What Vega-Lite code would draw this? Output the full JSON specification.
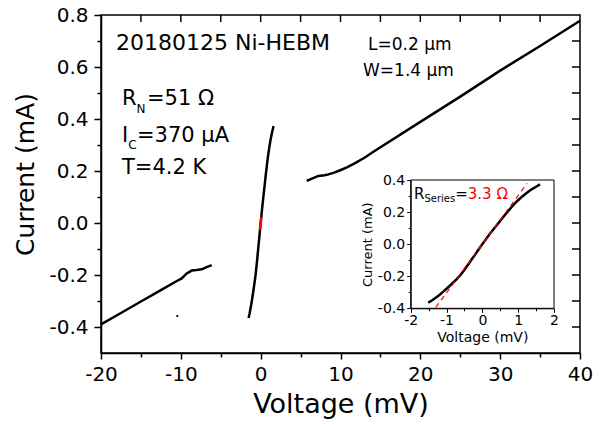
{
  "$schema": "https://vega.github.io/schema/vega-lite/v6.json",
  "width": 479,
  "height": 338,
  "autosize": {"type": "none"},
  "padding": {"left": 101, "top": 15, "right": 26, "bottom": 72},
  "background": "white",
  "config": {
    "font": "DejaVu Sans",
    "view": {"stroke": "#000", "strokeWidth": 1.5},
    "axis": {"grid": false, "domainColor": "#000", "domainWidth": 1.5, "tickColor": "#000", "tickWidth": 1.5, "labelColor": "#000", "titleColor": "#000", "labelFont": "DejaVu Sans", "titleFont": "DejaVu Sans", "titleFontWeight": "normal", "labelOverlap": false, "labelFlush": false, "minExtent": 0, "maxExtent": 200},
    "text": {"font": "DejaVu Sans", "color": "#000"}
  },
  "datasets": {
    "branches": [
      {"b": "low", "V": -20, "I": -0.39},
      {"b": "low", "V": -17.5, "I": -0.346},
      {"b": "low", "V": -15, "I": -0.302},
      {"b": "low", "V": -12.5, "I": -0.258},
      {"b": "low", "V": -10.5, "I": -0.223},
      {"b": "low", "V": -9.89, "I": -0.213},
      {"b": "low", "V": -9.26, "I": -0.194},
      {"b": "low", "V": -8.64, "I": -0.183},
      {"b": "low", "V": -8.01, "I": -0.181},
      {"b": "low", "V": -7.38, "I": -0.178},
      {"b": "low", "V": -6.76, "I": -0.17},
      {"b": "low", "V": -6.13, "I": -0.162},
      {"b": "high", "V": 5.77, "I": 0.162},
      {"b": "high", "V": 6.5, "I": 0.172},
      {"b": "high", "V": 7.23, "I": 0.181},
      {"b": "high", "V": 8.0, "I": 0.184},
      {"b": "high", "V": 8.49, "I": 0.187},
      {"b": "high", "V": 9.1, "I": 0.193},
      {"b": "high", "V": 9.74, "I": 0.2},
      {"b": "high", "V": 10.8, "I": 0.214},
      {"b": "high", "V": 11.83, "I": 0.23},
      {"b": "high", "V": 13.0, "I": 0.251},
      {"b": "high", "V": 14.12, "I": 0.274},
      {"b": "high", "V": 20, "I": 0.389},
      {"b": "high", "V": 25, "I": 0.486},
      {"b": "high", "V": 30, "I": 0.586},
      {"b": "high", "V": 35, "I": 0.681},
      {"b": "high", "V": 40, "I": 0.778}
    ],
    "center": [
      {"V": -1.51, "I": -0.365},
      {"V": -1.4, "I": -0.35},
      {"V": -1.3, "I": -0.334},
      {"V": -1.2, "I": -0.317},
      {"V": -1.09, "I": -0.296},
      {"V": -0.97, "I": -0.272},
      {"V": -0.85, "I": -0.247},
      {"V": -0.73, "I": -0.221},
      {"V": -0.62, "I": -0.195},
      {"V": -0.5, "I": -0.16},
      {"V": -0.4, "I": -0.128},
      {"V": -0.3, "I": -0.096},
      {"V": -0.2, "I": -0.064},
      {"V": -0.1, "I": -0.032},
      {"V": 0, "I": 0},
      {"V": 0.1, "I": 0.031},
      {"V": 0.2, "I": 0.061},
      {"V": 0.35, "I": 0.104},
      {"V": 0.49, "I": 0.143},
      {"V": 0.6, "I": 0.174},
      {"V": 0.7, "I": 0.201},
      {"V": 0.83, "I": 0.235},
      {"V": 0.96, "I": 0.266},
      {"V": 1.08, "I": 0.291},
      {"V": 1.2, "I": 0.313},
      {"V": 1.3, "I": 0.33},
      {"V": 1.4, "I": 0.345},
      {"V": 1.5, "I": 0.358},
      {"V": 1.61, "I": 0.373}
    ],
    "mainFit": [
      {"V": -0.09, "I": -0.027},
      {"V": 0.08, "I": 0.024}
    ],
    "insetFit": [
      {"V": -1.3, "I": -0.394},
      {"V": 1.25, "I": 0.379}
    ],
    "stray": [
      {"V": -10.44, "I": -0.358}
    ],
    "topTicks": [
      {"V": -15, "Itop": 0.8, "Iend": 0.773}, {"V": -10, "Itop": 0.8, "Iend": 0.773}, {"V": -5, "Itop": 0.8, "Iend": 0.773},
      {"V": 0, "Itop": 0.8, "Iend": 0.773}, {"V": 5, "Itop": 0.8, "Iend": 0.773}, {"V": 10, "Itop": 0.8, "Iend": 0.773},
      {"V": 15, "Itop": 0.8, "Iend": 0.773}, {"V": 20, "Itop": 0.8, "Iend": 0.773}, {"V": 25, "Itop": 0.8, "Iend": 0.773},
      {"V": 30, "Itop": 0.8, "Iend": 0.773}, {"V": 35, "Itop": 0.8, "Iend": 0.773}
    ],
    "rightTicks": [
      {"I": -0.4, "Vr": 40, "Vend": 39.0}, {"I": -0.3, "Vr": 40, "Vend": 39.0}, {"I": -0.2, "Vr": 40, "Vend": 39.0},
      {"I": -0.1, "Vr": 40, "Vend": 39.0}, {"I": 0, "Vr": 40, "Vend": 39.0}, {"I": 0.1, "Vr": 40, "Vend": 39.0},
      {"I": 0.2, "Vr": 40, "Vend": 39.0}, {"I": 0.3, "Vr": 40, "Vend": 39.0}, {"I": 0.4, "Vr": 40, "Vend": 39.0},
      {"I": 0.5, "Vr": 40, "Vend": 39.0}, {"I": 0.6, "Vr": 40, "Vend": 39.0}, {"I": 0.7, "Vr": 40, "Vend": 39.0}
    ],
    "mainTitle": [
      {"V": -18.12, "I": 0.692, "t": "20180125 Ni-HEBM"}
    ],
    "dims": [
      {"V": 13.45, "I": 0.685, "t": "L=0.2 μm"},
      {"V": 12.82, "I": 0.586, "t": "W=1.4 μm"}
    ],
    "params": [
      {"V": -17.37, "I": 0.477, "t": "R"},
      {"V": -14.24, "I": 0.477, "t": "=51 Ω"},
      {"V": -17.37, "I": 0.335, "t": "I"},
      {"V": -15.49, "I": 0.335, "t": "=370 μA"},
      {"V": -17.37, "I": 0.212, "t": "T=4.2 K"}
    ],
    "subs": [
      {"V": -15.54, "I": 0.437, "t": "N"},
      {"V": -16.59, "I": 0.3, "t": "C"}
    ],
    "box": [
      {"V": -2, "V2": 2, "I": -0.4, "I2": 0.4}
    ],
    "rsBlack": [
      {"V": -1.91, "I": 0.31, "t": "R"},
      {"V": -0.758, "I": 0.31, "t": "="}
    ],
    "rsSub": [
      {"V": -1.618, "I": 0.281, "t": "Series"}
    ],
    "rsRed": [
      {"V": -0.406, "I": 0.31, "t": "3.3 Ω"}
    ]
  },
  "layer": [
    {
      "layer": [
        {
          "data": {"name": "branches"},
          "mark": {"type": "line", "color": "#000", "strokeWidth": 2.5},
          "encoding": {
            "x": {"field": "V", "type": "quantitative", "scale": {"domain": [-20, 40], "nice": false, "zero": false},
              "axis": {"orient": "bottom", "title": "Voltage (mV)", "values": [-20, -15, -10, -5, 0, 5, 10, 15, 20, 25, 30, 35, 40],
                "labelExpr": "datum.value % 10 == 0 ? (datum.value < 0 ? '-' : '') + format(abs(datum.value), 'd') : ''",
                "tickSize": {"condition": {"test": "datum.value % 10 == 0", "value": 6}, "value": 4},
                "labelFontSize": 20, "titleFontSize": 27, "labelPadding": 5, "titlePadding": 7}},
            "y": {"field": "I", "type": "quantitative", "scale": {"domain": [-0.5, 0.8], "nice": false, "zero": false},
              "axis": {"orient": "left", "title": "Current (mA)", "values": [-0.4, -0.3, -0.2, -0.1, 0, 0.1, 0.2, 0.3, 0.4, 0.5, 0.6, 0.7, 0.8],
                "labelExpr": "abs(round(datum.value * 10)) % 2 == 0 ? (datum.value < 0 ? '-' : '') + format(abs(datum.value), '.1f') : ''",
                "tickSize": {"condition": {"test": "abs(round(datum.value * 10)) % 2 == 0", "value": 7}, "value": 4},
                "labelFontSize": 20, "titleFontSize": 25, "labelPadding": 6, "titlePadding": 10, "titleY": 159}},
            "detail": {"field": "b"}
          }
        },
        {
          "data": {"name": "center"},
          "mark": {"type": "line", "color": "#000", "strokeWidth": 2.5},
          "encoding": {
            "x": {"field": "V", "type": "quantitative", "axis": null},
            "y": {"field": "I", "type": "quantitative", "axis": null}
          }
        },
        {
          "data": {"name": "topTicks"},
          "mark": {"type": "rule", "color": "#000", "strokeWidth": 1.5},
          "encoding": {
            "x": {"field": "V", "type": "quantitative", "axis": null},
            "y": {"field": "Itop", "type": "quantitative", "axis": null},
            "y2": {"field": "Iend"}
          }
        },
        {
          "data": {"name": "rightTicks"},
          "mark": {"type": "rule", "color": "#000", "strokeWidth": 1.5},
          "encoding": {
            "x": {"field": "Vr", "type": "quantitative", "axis": null},
            "x2": {"field": "Vend"},
            "y": {"field": "I", "type": "quantitative", "axis": null}
          }
        },
        {
          "data": {"name": "mainFit"},
          "mark": {"type": "line", "color": "#ff0000", "strokeWidth": 2.5},
          "encoding": {
            "x": {"field": "V", "type": "quantitative", "axis": null},
            "y": {"field": "I", "type": "quantitative", "axis": null}
          }
        },
        {
          "data": {"name": "stray"},
          "mark": {"type": "circle", "color": "#000", "size": 5, "opacity": 1},
          "encoding": {
            "x": {"field": "V", "type": "quantitative", "axis": null},
            "y": {"field": "I", "type": "quantitative", "axis": null}
          }
        },
        {
          "data": {"name": "mainTitle"},
          "mark": {"type": "text", "fontSize": 22, "align": "left", "baseline": "middle"},
          "encoding": {
            "x": {"field": "V", "type": "quantitative", "axis": null},
            "y": {"field": "I", "type": "quantitative", "axis": null},
            "text": {"field": "t"}
          }
        },
        {
          "data": {"name": "dims"},
          "mark": {"type": "text", "fontSize": 17, "align": "left", "baseline": "middle"},
          "encoding": {
            "x": {"field": "V", "type": "quantitative", "axis": null},
            "y": {"field": "I", "type": "quantitative", "axis": null},
            "text": {"field": "t"}
          }
        },
        {
          "data": {"name": "params"},
          "mark": {"type": "text", "fontSize": 21, "align": "left", "baseline": "middle"},
          "encoding": {
            "x": {"field": "V", "type": "quantitative", "axis": null},
            "y": {"field": "I", "type": "quantitative", "axis": null},
            "text": {"field": "t"}
          }
        },
        {
          "data": {"name": "subs"},
          "mark": {"type": "text", "fontSize": 12, "align": "left", "baseline": "middle"},
          "encoding": {
            "x": {"field": "V", "type": "quantitative", "axis": null},
            "y": {"field": "I", "type": "quantitative", "axis": null},
            "text": {"field": "t"}
          }
        }
      ],
      "resolve": {"axis": {"x": "independent", "y": "independent"}}
    },
    {
      "layer": [
        {
          "data": {"name": "box"},
          "mark": {"type": "rect", "fill": "white", "stroke": "#000", "strokeWidth": 1},
          "encoding": {
            "x": {"field": "V", "type": "quantitative", "scale": {"domain": [-2, 2], "range": [309.7, 453], "nice": false, "zero": false},
              "axis": {"orient": "bottom", "offset": -44.7, "zindex": 1, "title": "Voltage (mV)", "values": [-2, -1.5, -1, -0.5, 0, 0.5, 1, 1.5, 2],
                "labelExpr": "datum.value % 1 == 0 ? (datum.value < 0 ? '-' : '') + format(abs(datum.value), 'd') : ''",
                "tickSize": {"condition": {"test": "datum.value % 1 == 0", "value": 4}, "value": 2.5},
                "labelFontSize": 14, "titleFontSize": 14, "labelPadding": 1, "titlePadding": 3, "domainWidth": 1, "tickWidth": 1}},
            "x2": {"field": "V2"},
            "y": {"field": "I", "type": "quantitative", "scale": {"domain": [-0.4, 0.4], "range": [293.3, 165], "nice": false, "zero": false},
              "axis": {"orient": "left", "offset": -309.7, "zindex": 1, "title": "Current (mA)", "values": [-0.4, -0.3, -0.2, -0.1, 0, 0.1, 0.2, 0.3, 0.4],
                "labelExpr": "abs(round(datum.value * 10)) % 2 == 0 ? (datum.value < 0 ? '-' : '') + format(abs(datum.value), '.1f') : ''",
                "tickSize": {"condition": {"test": "abs(round(datum.value * 10)) % 2 == 0", "value": 4}, "value": 2.5},
                "labelFontSize": 14, "titleFontSize": 13, "labelPadding": 2, "titlePadding": 3, "domainWidth": 1, "tickWidth": 1}},
            "y2": {"field": "I2"}
          }
        },
        {
          "data": {"name": "center"},
          "mark": {"type": "line", "color": "#000", "strokeWidth": 2.5},
          "encoding": {
            "x": {"field": "V", "type": "quantitative", "axis": null},
            "y": {"field": "I", "type": "quantitative", "axis": null}
          }
        },
        {
          "data": {"name": "insetFit"},
          "mark": {"type": "line", "color": "#ff0000", "strokeWidth": 1.2, "strokeDash": [5, 4]},
          "encoding": {
            "x": {"field": "V", "type": "quantitative", "axis": null},
            "y": {"field": "I", "type": "quantitative", "axis": null}
          }
        },
        {
          "data": {"name": "rsBlack"},
          "mark": {"type": "text", "fontSize": 15, "align": "left", "baseline": "middle"},
          "encoding": {
            "x": {"field": "V", "type": "quantitative", "axis": null},
            "y": {"field": "I", "type": "quantitative", "axis": null},
            "text": {"field": "t"}
          }
        },
        {
          "data": {"name": "rsSub"},
          "mark": {"type": "text", "fontSize": 10, "align": "left", "baseline": "middle"},
          "encoding": {
            "x": {"field": "V", "type": "quantitative", "axis": null},
            "y": {"field": "I", "type": "quantitative", "axis": null},
            "text": {"field": "t"}
          }
        },
        {
          "data": {"name": "rsRed"},
          "mark": {"type": "text", "fontSize": 15, "align": "left", "baseline": "middle", "color": "#ff0000"},
          "encoding": {
            "x": {"field": "V", "type": "quantitative", "axis": null},
            "y": {"field": "I", "type": "quantitative", "axis": null},
            "text": {"field": "t"}
          }
        }
      ],
      "resolve": {"axis": {"x": "independent", "y": "independent"}}
    }
  ],
  "resolve": {"scale": {"x": "independent", "y": "independent"}, "axis": {"x": "independent", "y": "independent"}}
}
